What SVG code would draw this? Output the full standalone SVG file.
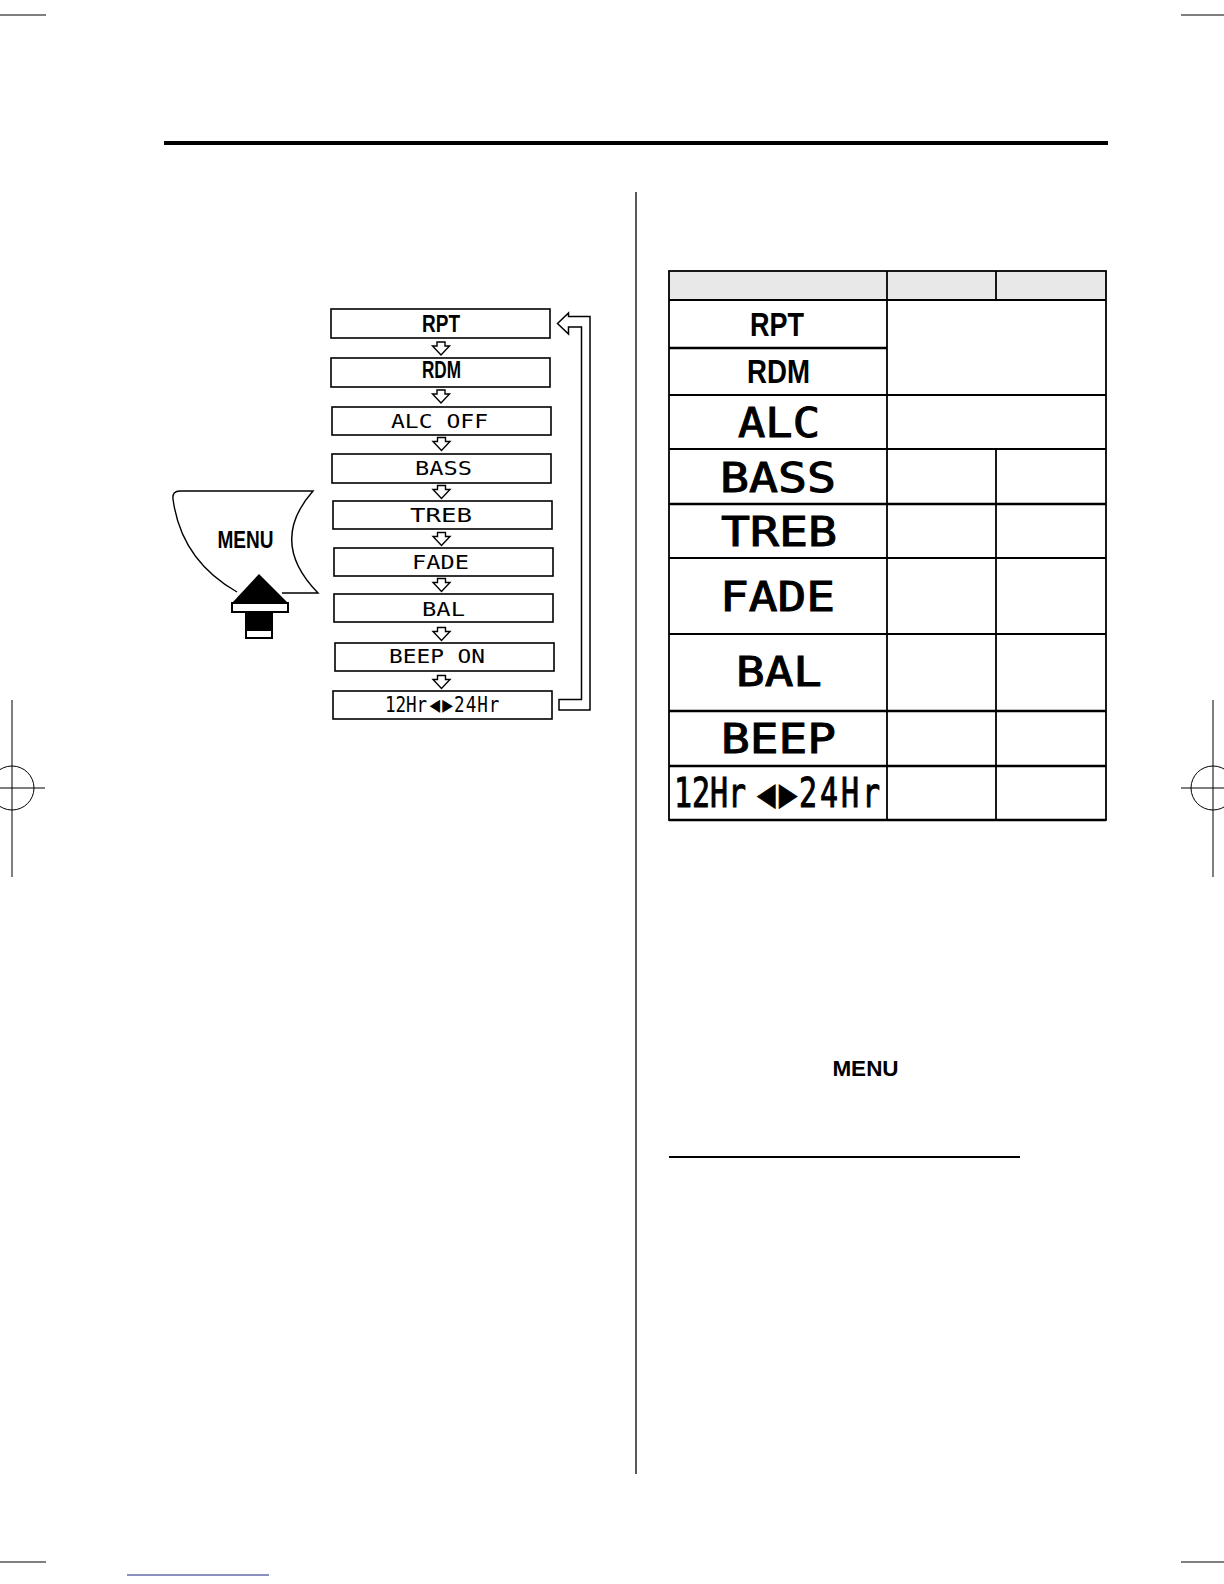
<svg xmlns="http://www.w3.org/2000/svg" xmlns:xlink="http://www.w3.org/1999/xlink" width="1224" height="1584" viewBox="0 0 1224 1584">
<style>
.box{fill:#fff;stroke:#000;stroke-width:1.6}
.narrow{font-family:"Liberation Sans Narrow","Liberation Sans",Arial,sans-serif;font-weight:bold;font-stretch:condensed;fill:#000}
.lcd{font-family:"DejaVu Sans Mono","Liberation Mono",monospace;fill:#000}
.lcdb{font-family:"DejaVu Sans Mono","Liberation Mono",monospace;fill:#000;stroke:#000;stroke-width:1}
.thin{stroke:#000;stroke-width:1;fill:none}
.tl{stroke:#000;stroke-width:1.8;fill:none}
.tk{stroke:#000;stroke-width:2.6;fill:none}
.darr{fill:#fff;stroke:#000;stroke-width:1.4;stroke-linejoin:miter}
</style>
<defs>
<polygon id="down" class="darr" points="-4,0 4,0 4,4 8.5,4 0,13 -8.5,4 -4,4"/>
</defs>
<rect width="1224" height="1584" fill="#fff"/>
<!-- page furniture -->
<g id="page">
<line x1="0" y1="15" x2="46" y2="15" class="thin"/>
<line x1="1181" y1="15" x2="1224" y2="15" class="thin"/>
<line x1="0" y1="1562" x2="46" y2="1562" class="thin"/>
<line x1="1181" y1="1562" x2="1224" y2="1562" class="thin"/>
<line x1="12" y1="700" x2="12" y2="877" class="thin"/>
<line x1="0" y1="788" x2="45" y2="788" class="thin"/>
<circle cx="12" cy="788" r="22" class="thin"/>
<line x1="1213" y1="700" x2="1213" y2="877" class="thin"/>
<line x1="1181" y1="788" x2="1224" y2="788" class="thin"/>
<circle cx="1213" cy="788" r="22" class="thin"/>
<rect x="164" y="141" width="944" height="4" fill="#000"/>
<line x1="636" y1="192" x2="636" y2="1474" stroke="#000" stroke-width="1.3"/>
<line x1="669" y1="1157" x2="1020" y2="1157" stroke="#000" stroke-width="2"/>
<line x1="127" y1="1575" x2="269" y2="1575" stroke="#1a237e" stroke-width="1.2"/>
<text x="865.5" y="1076" class="narrow" font-size="22.5" text-anchor="middle" style="font-stretch:normal;font-family:'Liberation Sans',Arial,sans-serif">MENU</text>
</g>
<!-- MENU button -->
<g id="menu-button">
<path d="M237,592 Q181,560 173,499 Q172,491 180,491 L313,491 Q268,542 318,593 L282,593" fill="#fff" stroke="#000" stroke-width="1.4"/>
<text x="245.5" y="548" class="narrow" font-size="23" text-anchor="middle" textLength="56" lengthAdjust="spacingAndGlyphs">MENU</text>
<polygon points="259,574 288,603 232,603" fill="#000"/>
<rect x="232" y="603" width="56" height="9" fill="#fff" stroke="#000" stroke-width="2"/>
<rect x="245" y="612" width="28" height="18" fill="#000"/>
<rect x="246" y="630" width="26" height="8" fill="#fff" stroke="#000" stroke-width="2"/>
</g>
<!-- flow nodes -->
<g id="node-rpt"><rect class="box" x="331" y="309" width="219" height="29"/><text class="narrow" x="441" y="332" font-size="23.5" text-anchor="middle" textLength="38" lengthAdjust="spacingAndGlyphs">RPT</text></g>
<g id="node-rdm"><rect class="box" x="331" y="358" width="219" height="29"/><text class="narrow" x="441.5" y="378" font-size="23.5" text-anchor="middle" textLength="39" lengthAdjust="spacingAndGlyphs">RDM</text></g>
<g id="node-alc"><rect class="box" x="332" y="407" width="219" height="28"/><text class="lcd" x="391" y="428" font-size="19" textLength="97" lengthAdjust="spacingAndGlyphs">ALC OFF</text></g>
<g id="node-bass"><rect class="box" x="332" y="454" width="219" height="29"/><text class="lcd" x="415" y="475" font-size="19" textLength="57" lengthAdjust="spacingAndGlyphs">BASS</text></g>
<g id="node-treb"><rect class="box" x="333" y="501" width="219" height="28"/><text class="lcd" x="410" y="522" font-size="19" textLength="62" lengthAdjust="spacingAndGlyphs">TREB</text></g>
<g id="node-fade"><rect class="box" x="334" y="548" width="219" height="28"/><text class="lcd" x="412" y="569" font-size="19" textLength="57" lengthAdjust="spacingAndGlyphs">FADE</text></g>
<g id="node-bal"><rect class="box" x="334" y="594" width="219" height="28"/><text class="lcd" x="422" y="616" font-size="19" textLength="43" lengthAdjust="spacingAndGlyphs">BAL</text></g>
<g id="node-beep"><rect class="box" x="335" y="643" width="219" height="28"/><text class="lcd" x="389" y="663" font-size="19" textLength="96" lengthAdjust="spacingAndGlyphs">BEEP ON</text></g>
<g id="node-clock"><rect class="box" x="333" y="691" width="219" height="28"/>
<text class="lcd" font-size="22" transform="translate(385,712) scale(0.8,1)" x="0 13.1 26.2 39.4 55.6 71.5 86.3 100.8 115.3 129.8" y="0">12Hr◀▶24Hr</text>
</g>
<!-- connectors -->
<g id="connectors">
<use xlink:href="#down" href="#down" x="441" y="342"/>
<use xlink:href="#down" href="#down" x="441" y="390"/>
<use xlink:href="#down" href="#down" x="441.5" y="437.5"/>
<use xlink:href="#down" href="#down" x="441.5" y="485.5"/>
<use xlink:href="#down" href="#down" x="441.5" y="532.5"/>
<use xlink:href="#down" href="#down" x="441.5" y="578.5"/>
<use xlink:href="#down" href="#down" x="441.5" y="627.5"/>
<use xlink:href="#down" href="#down" x="441.5" y="675.5"/>
<polygon points="557.5,323.5 568.5,313 568.5,316.5 590,316.5 590,710 559,710 559,699.5 581.5,699.5 581.5,327 568.5,327 568.5,334" fill="#fff" stroke="#000" stroke-width="1.5"/>
</g>
<!-- table -->
<g id="settings-table">
<rect x="669" y="271" width="437" height="29" fill="#e8e8e8"/>
<rect x="669" y="271" width="437" height="549" class="tl"/>
<line x1="887" y1="271" x2="887" y2="820" class="tl"/>
<line x1="996" y1="271" x2="996" y2="300" class="tl"/>
<line x1="996" y1="449" x2="996" y2="820" class="tl"/>
<line x1="669" y1="300" x2="1106" y2="300" class="tl"/>
<line x1="669" y1="348" x2="887" y2="348" class="tk"/>
<line x1="669" y1="395" x2="1106" y2="395" class="tl"/>
<line x1="669" y1="449" x2="1106" y2="449" class="tl"/>
<line x1="669" y1="504" x2="1106" y2="504" class="tk"/>
<line x1="669" y1="558" x2="1106" y2="558" class="tl"/>
<line x1="669" y1="634" x2="1106" y2="634" class="tl"/>
<line x1="669" y1="711" x2="1106" y2="711" class="tk"/>
<line x1="669" y1="766" x2="1106" y2="766" class="tk"/>
<line x1="669" y1="820" x2="1106" y2="820" class="tk"/>
<text class="narrow" x="777" y="336" font-size="33" text-anchor="middle" textLength="54" lengthAdjust="spacingAndGlyphs">RPT</text>
<text class="narrow" x="778.5" y="383" font-size="33" text-anchor="middle" textLength="63" lengthAdjust="spacingAndGlyphs">RDM</text>
<text class="lcdb" x="738" y="437" font-size="41" textLength="82" lengthAdjust="spacingAndGlyphs">ALC</text>
<text class="lcdb" x="720" y="492" font-size="41" textLength="116" lengthAdjust="spacingAndGlyphs">BASS</text>
<text class="lcdb" x="721" y="546" font-size="41" textLength="116" lengthAdjust="spacingAndGlyphs">TREB</text>
<text class="lcdb" x="720" y="611" font-size="41" textLength="115" lengthAdjust="spacingAndGlyphs">FADE</text>
<text class="lcdb" x="736" y="686" font-size="41" textLength="86" lengthAdjust="spacingAndGlyphs">BAL</text>
<text class="lcdb" x="721" y="753" font-size="41" textLength="115" lengthAdjust="spacingAndGlyphs">BEEP</text>
<text class="lcdb" font-size="40" transform="translate(674,807) scale(0.75,1)" x="0 24 48 72 96 111 140 166.7 194.7 222.7 250.7" y="0">12Hr ◀▶24Hr</text>
</g>
</svg>
